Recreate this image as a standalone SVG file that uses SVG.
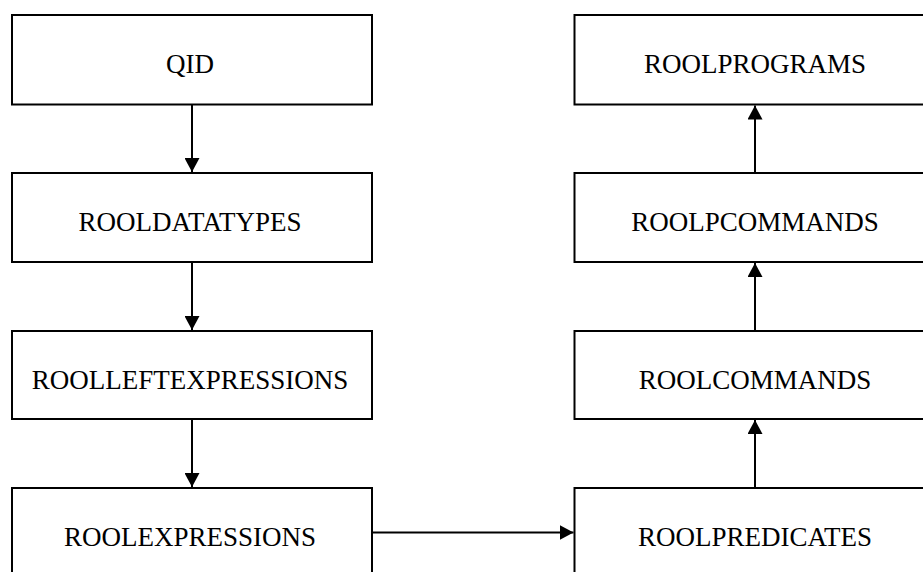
<svg xmlns="http://www.w3.org/2000/svg" width="923" height="572" viewBox="0 0 923 572">
<style>
.box{fill:#fff;stroke:#000;stroke-width:2}
.lbl{font-family:"Liberation Serif","Times New Roman",serif;font-size:27px;fill:#000;text-anchor:middle}
.con{stroke:#000;stroke-width:2;fill:none;marker-end:url(#ah)}
</style>
<defs>
<marker id="ah" markerUnits="userSpaceOnUse" markerWidth="14" markerHeight="15" viewBox="0 0 14 15" refX="14" refY="7.5" orient="auto">
<path d="M0,0 L14,7.5 L0,15 z" fill="#000"/>
</marker>
</defs>
<g id="qid"><rect class="box" x="12" y="15" width="360" height="89.5"/><text class="lbl" x="190" y="73">QID</text></g>
<g id="rooldatatypes"><rect class="box" x="12" y="173" width="360" height="89"/><text class="lbl" x="190" y="231">ROOLDATATYPES</text></g>
<g id="roolleftexpressions"><rect class="box" x="12" y="331" width="360" height="88"/><text class="lbl" x="190" y="389">ROOLLEFTEXPRESSIONS</text></g>
<g id="roolexpressions"><rect class="box" x="12" y="488" width="360" height="100"/><text class="lbl" x="190" y="546">ROOLEXPRESSIONS</text></g>
<g id="roolprograms"><rect class="box" x="574.5" y="15" width="361" height="89.5"/><text class="lbl" x="755" y="73">ROOLPROGRAMS</text></g>
<g id="roolpcommands"><rect class="box" x="574.5" y="173" width="361" height="89"/><text class="lbl" x="755" y="231">ROOLPCOMMANDS</text></g>
<g id="roolcommands"><rect class="box" x="574.5" y="331" width="361" height="88"/><text class="lbl" x="755" y="389">ROOLCOMMANDS</text></g>
<g id="roolpredicates"><rect class="box" x="574.5" y="488" width="361" height="100"/><text class="lbl" x="755" y="546">ROOLPREDICATES</text></g>
<g id="connectors">
<line class="con" x1="192" y1="104.5" x2="192" y2="172"/>
<line class="con" x1="192" y1="262" x2="192" y2="330"/>
<line class="con" x1="192" y1="419" x2="192" y2="487"/>
<line class="con" x1="372" y1="532.5" x2="573.5" y2="532.5"/>
<line class="con" x1="755" y1="488" x2="755" y2="420"/>
<line class="con" x1="755" y1="331" x2="755" y2="263"/>
<line class="con" x1="755" y1="173" x2="755" y2="105.5"/>
</g>
</svg>
